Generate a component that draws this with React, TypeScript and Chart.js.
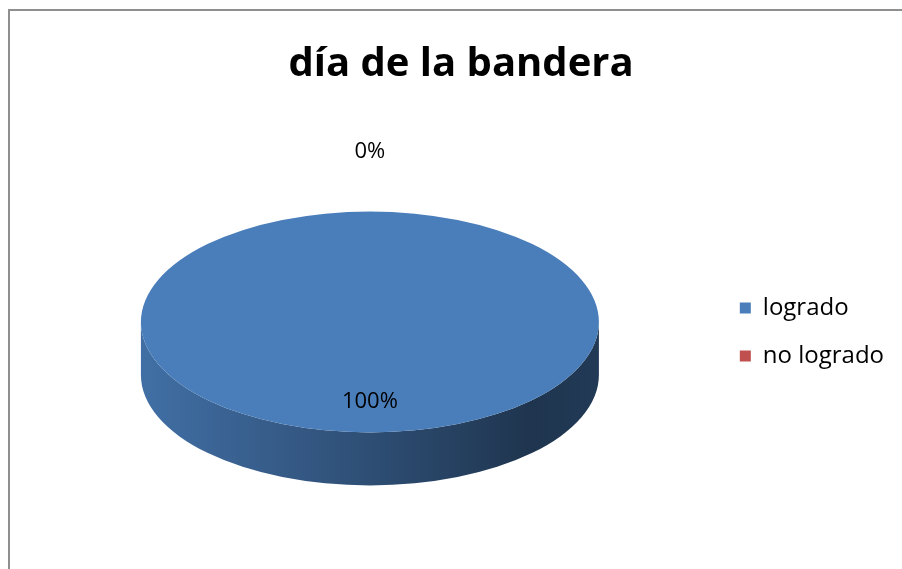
import React, { useEffect, useRef } from "react";
import { Chart, registerables } from "chart.js";

Chart.register(...registerables);

const chartTitle = "día de la bandera";
const categories = ["logrado", "no logrado"];
const values = [100, 0];
const sliceColors = ["#4a7ebb", "#c0504d"];

const TILT = 0.4825;
const DEPTH = 0.2314;
const SHIFT_X = -2;
const SHIFT_Y = -10;

function shade(hex: string, f: number) {
  const n = parseInt(hex.slice(1), 16);
  const r = Math.round(((n >> 16) & 255) * f);
  const g = Math.round(((n >> 8) & 255) * f);
  const b = Math.round((n & 255) * f);
  return `rgb(${r},${g},${b})`;
}

const pie3d = {
  id: "pie3d",
  beforeDatasetsDraw(chart: any) {
    const meta = chart.getDatasetMeta(0);
    const first = meta.data[0];
    if (!first) return;
    const { x, y, outerRadius: r } = first;
    const cx = x + SHIFT_X;
    const cy = y + SHIFT_Y;
    const ry = r * TILT;
    const depth = r * DEPTH;
    const ctx = chart.ctx;
    const PI = Math.PI;
    meta.data.forEach((arc: any, i: number) => {
      const s = arc.startAngle;
      const e = arc.endAngle;
      if (e - s <= 0) return;
      const base = sliceColors[i % sliceColors.length];
      for (let k = -1; k <= 2; k++) {
        const off = 2 * PI * k;
        const a1 = Math.max(s, off);
        const a2 = Math.min(e, PI + off);
        if (a2 <= a1) continue;
        const b1 = a1 - off;
        const b2 = a2 - off;
        const grad = ctx.createLinearGradient(cx - r, 0, cx + r, 0);
        grad.addColorStop(0, shade(base, 0.88));
        grad.addColorStop(0.5, shade(base, 0.62));
        grad.addColorStop(0.85, shade(base, 0.42));
        grad.addColorStop(1, shade(base, 0.46));
        ctx.save();
        ctx.beginPath();
        ctx.ellipse(cx, cy, r, ry, 0, b1, b2, false);
        ctx.ellipse(cx, cy + depth, r, ry, 0, b2, b1, true);
        ctx.closePath();
        ctx.fillStyle = grad;
        ctx.fill();
        ctx.restore();
      }
    });
    ctx.save();
    ctx.translate(SHIFT_X, cy);
    ctx.scale(1, TILT);
    ctx.translate(0, -y);
  },
  afterDatasetsDraw(chart: any) {
    const ctx = chart.ctx;
    ctx.restore();
    const meta = chart.getDatasetMeta(0);
    const first = meta.data[0];
    if (!first) return;
    const { x, y, outerRadius: r } = first;
    const cx = x + SHIFT_X;
    const cy = y + SHIFT_Y;
    const ry = r * TILT;
    const total = values.reduce((a, b) => a + b, 0);
    ctx.save();
    ctx.font = "22px 'Open Sans'";
    ctx.fillStyle = "#000";
    ctx.textAlign = "center";
    ctx.textBaseline = "middle";
    meta.data.forEach((arc: any, i: number) => {
      const share = total ? values[i] / total : 0;
      const mid = (arc.startAngle + arc.endAngle) / 2;
      const f = share < 0.05 ? 1.54 : 0.72;
      const lx = cx + Math.cos(mid) * r * f;
      const ly = cy + Math.sin(mid) * ry * f;
      ctx.fillText(`${Math.round(share * 100)}%`, lx, ly);
    });
    ctx.restore();
  },
};

export default function App() {
  const ref = useRef<HTMLCanvasElement | null>(null);
  useEffect(() => {
    document.documentElement.style.overflow = "hidden";
    if (!ref.current) return;
    const chart = new Chart(ref.current, {
      type: "pie",
      data: {
        labels: categories,
        datasets: [
          {
            data: values,
            backgroundColor: sliceColors,
            borderWidth: 0,
            hoverOffset: 0,
            offset: 0,
          },
        ],
      },
      options: {
        animation: false,
        responsive: true,
        maintainAspectRatio: false,
        layout: { padding: { top: 0, bottom: 8, left: 20, right: 20 } },
        plugins: {
          title: {
            display: true,
            text: chartTitle,
            color: "#000",
            font: { family: "'Open Sans'", weight: "bold", size: 40 },
            padding: { top: 41, bottom: 14 },
          },
          legend: {
            position: "right",
            fullSize: false,
            onClick: () => {},
            labels: {
              boxWidth: 11,
              boxHeight: 11,
              padding: 24,
              color: "#000",
              font: { family: "'Open Sans'", size: 24 },
            },
          },
          tooltip: { enabled: false },
        },
      },
      plugins: [pie3d],
    });
    return () => chart.destroy();
  }, []);
  return (
    <div style={{ position: "fixed", inset: 0, overflow: "hidden", background: "#fff" }}>
      <div
        style={{
          position: "absolute",
          left: 8,
          top: 9,
          width: 1000,
          height: 1000,
          borderTop: "2px solid #8f8f8f",
          borderLeft: "2px solid #8f8f8f",
        }}
      />
      <div style={{ position: "absolute", left: 8, top: 0, width: 906, height: 569 }}>
        <canvas ref={ref} />
      </div>
    </div>
  );
}
